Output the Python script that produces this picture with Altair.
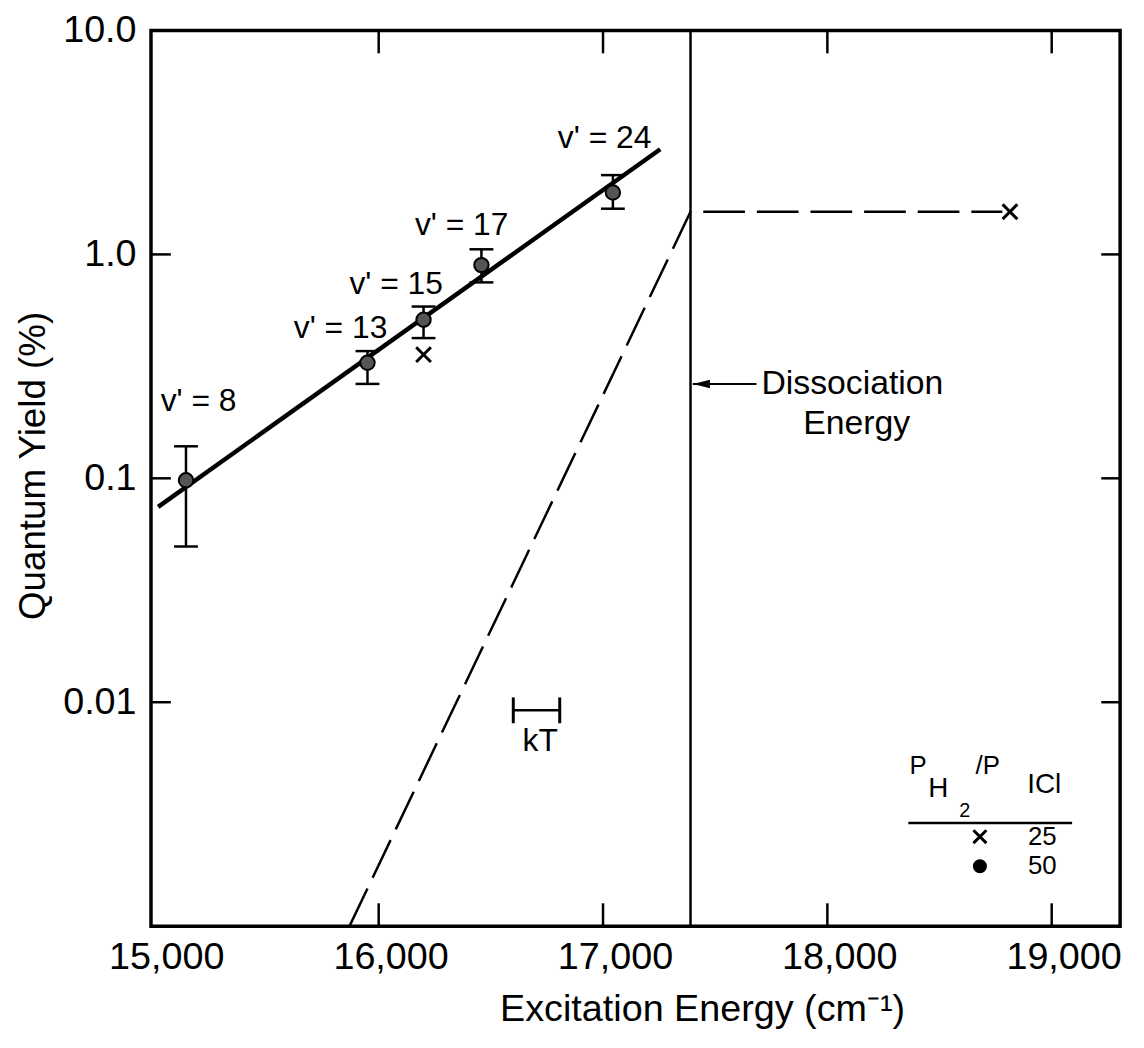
import altair as alt
import pandas as pd

FONT = "Liberation Sans"
W, H = 976, 902

# ---------------- data ----------------
v_labels = ["v' = 8", "v' = 13", "v' = 15", "v' = 17", "v' = 24"]
energy_50 = [15141, 15950, 16200, 16458, 17044]
yield_50 = [0.098, 0.328, 0.511, 0.896, 1.89]
err_low_50 = [0.0496, 0.264, 0.423, 0.75, 1.60]
err_high_50 = [0.139, 0.37, 0.585, 1.054, 2.26]

energy_25 = [16200, 18814]
yield_25 = [0.357, 1.55]

fit_energy = [15017, 17255]
fit_yield = [0.0746, 2.95]

dashed_energy = [15870, 17390, 18780]
dashed_yield = [0.001, 1.55, 1.55]

dissociation_energy = [17390]

label_energy = [15197, 15830, 16078, 16370, 17007]
label_yield = [0.222, 0.468, 0.74, 1.35, 3.32]

kT_energy = [16600, 16807]
kT_yield = [0.0092, 0.0092]
kT_text = ["kT"]
kT_text_pos = [16720, 0.00668]

diss_text = ["Dissociation", "Energy"]
diss_text_x = [17706, 18131]
diss_text_y = [0.264, 0.175]
arrow_x = [17400, 17684]
arrow_y = [0.264, 0.264]
arrow_head = [17439, 0.264]

legend_text = ["P", "H", "2", "/P", "ICl", "25", "50"]
legend_text_x = [18405, 18494, 18613, 18715, 18967, 18958, 18958]
legend_text_y = [0.00518, 0.00409, 0.00327, 0.00518, 0.00427, 0.00251, 0.00185]
legend_text_size = [26, 28, 20, 26, 28, 26, 26]
legend_rule_x = [18361, 19091]
legend_rule_y = [0.00289, 0.00289]
legend_cross = [18680, 0.00251]
legend_dot = [18680, 0.00185]

x_ticks = [15000, 16000, 17000, 18000, 19000]
y_ticks = [0.01, 0.1, 1.0, 10.0]

# ---------------- scales / axes ----------------
x_scale = alt.Scale(domain=[14985, 19305], nice=False, zero=False)
y_scale = alt.Scale(type="log", domain=[0.001, 10], nice=False)

x_axis = alt.Axis(
    values=x_ticks, format=",d", ticks=False, domain=False, grid=False,
    labelFont=FONT, labelFontSize=38, labelPadding=13, labelOffset=12,
    labelColor="black", labelFlush=False,
    title="Excitation Energy  (cm\u207b\u00b9)", titleFont=FONT, titleFontSize=38,
    titleFontWeight="normal", titleColor="black", titleX=555, titleY=84,
    titleBaseline="middle", titleAlign="center",
)
y_axis = alt.Axis(
    values=y_ticks, ticks=False, domain=False, grid=False,
    labelExpr="datum.value >= 5 ? '10.0' : datum.value >= 0.5 ? '1.0' : datum.value >= 0.05 ? '0.1' : '0.01'",
    labelFont=FONT, labelFontSize=38, labelPadding=15, labelColor="black",
    labelFlush=False, labelOverlap=False,
    title="Quantum Yield (%)", titleFont=FONT, titleFontSize=37,
    titleFontWeight="normal", titleColor="black", titleX=-118, titleY=438,
    titleBaseline="middle", titleAlign="center",
)

def X(f="x"):
    return alt.X(f"{f}:Q", scale=x_scale, axis=x_axis)

def Y(f="y"):
    return alt.Y(f"{f}:Q", scale=y_scale, axis=y_axis)

# ---------------- layers ----------------
fit = alt.Chart(pd.DataFrame({"x": fit_energy, "y": fit_yield})).mark_line(
    color="black", strokeWidth=4.5).encode(x=X(), y=Y())

dashed = alt.Chart(pd.DataFrame({"x": dashed_energy, "y": dashed_yield, "o": [0, 1, 2]})).mark_line(
    color="black", strokeWidth=2.5, strokeDash=[42, 12]).encode(x=X(), y=Y(), order="o:Q")

diss = alt.Chart(pd.DataFrame({"x": dissociation_energy})).mark_rule(
    color="black", strokeWidth=2.5).encode(x=X(), y=alt.value(0), y2=alt.value(H))

df50 = pd.DataFrame({"x": energy_50, "y": yield_50, "lo": err_low_50, "hi": err_high_50})
err = alt.Chart(df50).mark_rule(color="black", strokeWidth=2.5).encode(
    x=X(), y=Y("lo"), y2="hi:Q")
cap_lo = alt.Chart(df50).mark_tick(orient="horizontal", size=24, thickness=2.5, color="black",
                                   opacity=1).encode(x=X(), y=Y("lo"))
cap_hi = alt.Chart(df50).mark_tick(orient="horizontal", size=24, thickness=2.5, color="black",
                                   opacity=1).encode(x=X(), y=Y("hi"))
pts50 = alt.Chart(df50).mark_point(shape="circle", filled=True, fill="#555555", stroke="black",
                                   strokeWidth=2, size=210, opacity=1).encode(x=X(), y=Y())

CROSS = "M-1,-1L1,1M-1,1L1,-1"
pts25 = alt.Chart(pd.DataFrame({"x": energy_25, "y": yield_25})).mark_point(
    shape=CROSS, filled=False, stroke="black", strokeWidth=3, size=220, opacity=1).encode(x=X(), y=Y())

vlab = alt.Chart(pd.DataFrame({"x": label_energy, "y": label_yield, "t": v_labels})).mark_text(
    font=FONT, fontSize=32, color="black", align="center", baseline="middle").encode(
    x=X(), y=Y(), text="t:N")

kT_bar = alt.Chart(pd.DataFrame({"x": kT_energy, "y": kT_yield})).mark_line(
    color="black", strokeWidth=2.5).encode(x=X(), y=Y())
kT_caps = alt.Chart(pd.DataFrame({"x": kT_energy, "y": kT_yield})).mark_tick(
    orient="vertical", size=26, thickness=3, color="black", opacity=1).encode(x=X(), y=Y())
kT_lab = alt.Chart(pd.DataFrame({"x": [kT_text_pos[0]], "y": [kT_text_pos[1]], "t": kT_text})).mark_text(
    font=FONT, fontSize=32, color="black", align="center", baseline="middle").encode(
    x=X(), y=Y(), text="t:N")

diss_df = pd.DataFrame({"x": diss_text_x, "y": diss_text_y, "t": diss_text})
diss_lab1 = alt.Chart(diss_df.iloc[[0]]).mark_text(
    font=FONT, fontSize=34, color="black", align="left", baseline="middle").encode(
    x=X(), y=Y(), text="t:N")
diss_lab2 = alt.Chart(diss_df.iloc[[1]]).mark_text(
    font=FONT, fontSize=34, color="black", align="center", baseline="middle").encode(
    x=X(), y=Y(), text="t:N")
arrow = alt.Chart(pd.DataFrame({"x": arrow_x, "y": arrow_y})).mark_line(
    color="black", strokeWidth=2).encode(x=X(), y=Y())
arrowhead = alt.Chart(pd.DataFrame({"x": [arrow_head[0]], "y": [arrow_head[1]]})).mark_point(
    shape="M-1,0L1,-0.5L1,0.5Z", filled=True, color="black", size=290, opacity=1).encode(x=X(), y=Y())

leg_txt = alt.Chart(pd.DataFrame({"x": legend_text_x, "y": legend_text_y, "t": legend_text,
                                  "s": legend_text_size})).mark_text(
    font=FONT, color="black", align="center", baseline="middle").encode(
    x=X(), y=Y(), text="t:N", size=alt.Size("s:Q", scale=None, legend=None))
leg_rule = alt.Chart(pd.DataFrame({"x": legend_rule_x, "y": legend_rule_y})).mark_line(
    color="black", strokeWidth=2.5).encode(x=X(), y=Y())
leg_cross = alt.Chart(pd.DataFrame({"x": [legend_cross[0]], "y": [legend_cross[1]]})).mark_point(
    shape=CROSS, filled=False, stroke="black", strokeWidth=3, size=170, opacity=1).encode(x=X(), y=Y())
leg_dot = alt.Chart(pd.DataFrame({"x": [legend_dot[0]], "y": [legend_dot[1]]})).mark_point(
    shape="circle", filled=True, color="black", size=200, opacity=1).encode(x=X(), y=Y())

# inward frame ticks
xt = pd.DataFrame({"x": x_ticks[1:]})
yt = pd.DataFrame({"y": y_ticks[:-1]})
tick_b = alt.Chart(xt).mark_rule(color="black", strokeWidth=2.5).encode(
    x=X(), y=alt.value(H), y2=alt.value(H - 23))
tick_t = alt.Chart(xt).mark_rule(color="black", strokeWidth=2.5).encode(
    x=X(), y=alt.value(0), y2=alt.value(23))
tick_l = alt.Chart(yt).mark_rule(color="black", strokeWidth=2.5).encode(
    y=Y(), x=alt.value(0), x2=alt.value(20))
tick_r = alt.Chart(yt).mark_rule(color="black", strokeWidth=2.5).encode(
    y=Y(), x=alt.value(W), x2=alt.value(W - 19))

chart = alt.layer(
    tick_b, tick_t, tick_l, tick_r,
    fit, dashed, diss, err, cap_lo, cap_hi, pts50, pts25, vlab,
    kT_bar, kT_caps, kT_lab, diss_lab1, diss_lab2, arrow, arrowhead,
    leg_txt, leg_rule, leg_cross, leg_dot,
).properties(
    width=W, height=H,
    autosize=alt.AutoSizeParams(type="none"),
    padding={"left": 144, "top": 19, "right": 16, "bottom": 110},
    background="white",
).configure_view(stroke="black", strokeWidth=3.5)

chart.save("out.html", embed_options={"renderer": "svg", "actions": False})
